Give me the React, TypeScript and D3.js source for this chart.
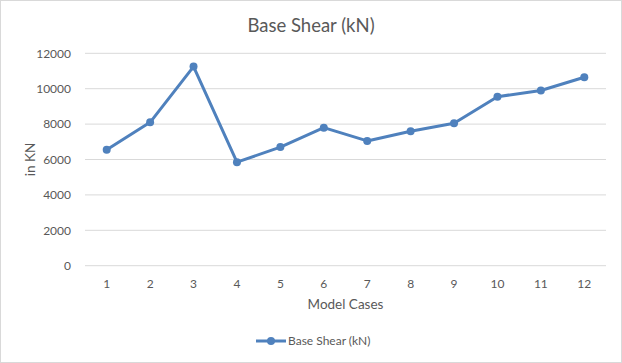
import React, { useRef, useEffect } from 'react';
import * as d3 from 'd3';

const CASES = ['1', '2', '3', '4', '5', '6', '7', '8', '9', '10', '11', '12'];
const BASE_SHEAR = [6550, 8100, 11250, 5850, 6700, 7800, 7050, 7600, 8050, 9550, 9900, 10650];
const Y_TICKS = [0, 2000, 4000, 6000, 8000, 10000, 12000];

const width = 622;
const height = 363;
const marginLeft = 85;
const marginRight = 16;
const plotTop = 53.3;
const plotBottom = 265.7;
const lineColor = '#4f81bd';
const textColor = '#595959';
const font = 'Lato, "Open Sans", sans-serif';

const x = d3.scalePoint<string>()
  .domain(CASES)
  .range([marginLeft, width - marginRight])
  .padding(0.5);

const y = d3.scaleLinear()
  .domain([0, 12000])
  .range([plotBottom, plotTop]);

function drawChart(node: SVGGElement) {
  const g = d3.select(node);
  g.selectAll('*').remove();

  // gridlines
  g.append('g')
    .selectAll('line')
    .data(Y_TICKS)
    .join('line')
    .attr('x1', marginLeft)
    .attr('x2', width - marginRight)
    .attr('y1', d => y(d))
    .attr('y2', d => y(d))
    .attr('stroke', '#d9d9d9')
    .attr('stroke-width', 1);

  // y tick labels
  g.append('g')
    .selectAll('text')
    .data(Y_TICKS)
    .join('text')
    .attr('x', marginLeft - 14)
    .attr('y', d => y(d))
    .attr('dy', '0.35em')
    .attr('text-anchor', 'end')
    .attr('font-size', 12)
    .attr('fill', textColor)
    .text(d => d);

  // x tick labels
  g.append('g')
    .selectAll('text')
    .data(CASES)
    .join('text')
    .attr('x', d => x(d)!)
    .attr('y', plotBottom + 22)
    .attr('text-anchor', 'middle')
    .attr('font-size', 12)
    .attr('fill', textColor)
    .text(d => d);

  // title
  g.append('text')
    .attr('x', width / 2)
    .attr('y', 32)
    .attr('text-anchor', 'middle')
    .attr('font-size', 18.5)
    .attr('fill', textColor)
    .text('Base Shear (kN)');

  // axis titles
  g.append('text')
    .attr('x', (marginLeft + width - marginRight) / 2)
    .attr('y', 309)
    .attr('text-anchor', 'middle')
    .attr('font-size', 13.5)
    .attr('fill', textColor)
    .text('Model Cases');

  g.append('text')
    .attr('transform', `translate(35,${(plotTop + plotBottom) / 2}) rotate(-90)`)
    .attr('text-anchor', 'middle')
    .attr('font-size', 13.5)
    .attr('fill', textColor)
    .text('in KN');

  // series
  const line = d3.line<number>()
    .x((_, i) => x(CASES[i])!)
    .y(d => y(d));

  g.append('path')
    .datum(BASE_SHEAR)
    .attr('d', line)
    .attr('fill', 'none')
    .attr('stroke', lineColor)
    .attr('stroke-width', 3)
    .attr('stroke-linejoin', 'round');

  g.append('g')
    .selectAll('circle')
    .data(BASE_SHEAR)
    .join('circle')
    .attr('cx', (_, i) => x(CASES[i])!)
    .attr('cy', d => y(d))
    .attr('r', 4)
    .attr('fill', lineColor);

  // legend
  const lg = g.append('g').attr('transform', 'translate(256,341)');
  lg.append('line')
    .attr('x1', 0).attr('x2', 30)
    .attr('stroke', lineColor)
    .attr('stroke-width', 3);
  lg.append('circle')
    .attr('cx', 15)
    .attr('r', 4)
    .attr('fill', lineColor);
  lg.append('text')
    .attr('x', 32)
    .attr('dy', '0.35em')
    .attr('font-size', 12)
    .attr('fill', textColor)
    .text('Base Shear (kN)');
}

const App = () => {
  const chartRef = useRef<SVGGElement>(null);

  useEffect(() => {
    if (chartRef.current) drawChart(chartRef.current);
  }, []);

  return (
    <svg
      width={width}
      height={height}
      style={{ position: 'absolute', left: 0, top: 0, fontFamily: font, background: '#fff' }}
    >
      <rect x={0.5} y={0.5} width={width - 1} height={height - 1} fill="#fff" stroke="#d9d9d9" />
      <g ref={chartRef}></g>
    </svg>
  );
};

export default App;
